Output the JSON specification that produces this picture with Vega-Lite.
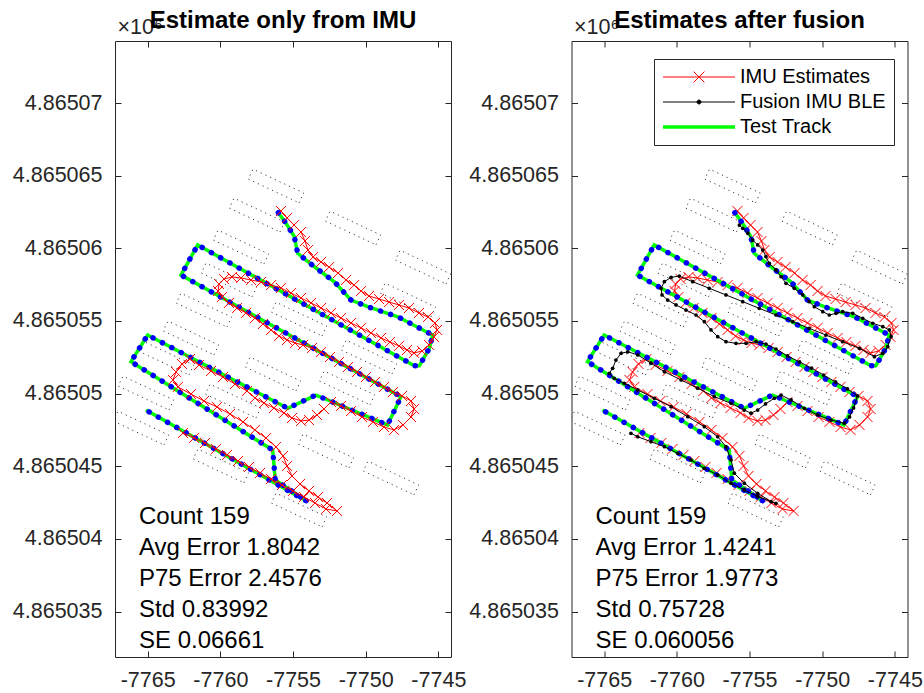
{
  "$schema": "https://vega.github.io/schema/vega-lite/v6.json",
  "background": "white",
  "padding": {"left": 11, "top": 8, "right": 5, "bottom": 5},
  "config": {
    "font": "Liberation Sans",
    "view": {"stroke": "#262626", "strokeWidth": 1},
    "axis": {
      "labelFont": "Liberation Sans", "labelFontSize": 21.5, "labelColor": "#262626",
      "tickColor": "#262626", "tickSize": -6, "domain": false, "grid": false
    },
    "title": {"font": "Liberation Sans", "fontSize": 24, "fontWeight": "bold", "color": "#000000",
      "anchor": "middle", "frame": "group", "offset": -17, "baseline": "alphabetic"}
  },
  "datasets": {
    "track": [
      {"seq": 1, "x": -7756.01, "y": 4865062.45}, {"seq": 2, "x": -7755.48, "y": 4865061.72},
      {"seq": 3, "x": -7754.91, "y": 4865060.80}, {"seq": 4, "x": -7754.68, "y": 4865059.66},
      {"seq": 5, "x": -7753.53, "y": 4865058.73}, {"seq": 6, "x": -7752.16, "y": 4865057.70},
      {"seq": 7, "x": -7751.01, "y": 4865056.44}, {"seq": 8, "x": -7749.86, "y": 4865055.98},
      {"seq": 9, "x": -7747.79, "y": 4865055.29}, {"seq": 10, "x": -7745.39, "y": 4865054.03},
      {"seq": 11, "x": -7745.62, "y": 4865053.12}, {"seq": 12, "x": -7746.31, "y": 4865051.92},
      {"seq": 13, "x": -7746.65, "y": 4865051.92}, {"seq": 14, "x": -7761.56, "y": 4865060.23},
      {"seq": 15, "x": -7762.71, "y": 4865058.16}, {"seq": 16, "x": -7747.57, "y": 4865049.79},
      {"seq": 17, "x": -7748.50, "y": 4865047.84}, {"seq": 18, "x": -7752.61, "y": 4865049.56},
      {"seq": 19, "x": -7753.42, "y": 4865049.90}, {"seq": 20, "x": -7755.36, "y": 4865048.99},
      {"seq": 21, "x": -7765.00, "y": 4865054.03}, {"seq": 22, "x": -7766.15, "y": 4865052.20},
      {"seq": 23, "x": -7756.40, "y": 4865046.12}, {"seq": 24, "x": -7756.22, "y": 4865044.05},
      {"seq": 25, "x": -7753.99, "y": 4865042.56}, {"seq": 26, "x": -7765.12, "y": 4865048.87}
    ],
    "imu": [
      {"seq": 1, "x": -7755.83, "y": 4865062.57}, {"seq": 2, "x": -7755.41, "y": 4865062.09},
      {"seq": 3, "x": -7754.93, "y": 4865061.60}, {"seq": 4, "x": -7754.45, "y": 4865061.12},
      {"seq": 5, "x": -7754.18, "y": 4865060.50}, {"seq": 6, "x": -7753.97, "y": 4865059.88},
      {"seq": 7, "x": -7753.62, "y": 4865059.40}, {"seq": 8, "x": -7753.07, "y": 4865059.06},
      {"seq": 9, "x": -7752.52, "y": 4865058.71}, {"seq": 10, "x": -7751.90, "y": 4865058.30},
      {"seq": 11, "x": -7751.35, "y": 4865057.82}, {"seq": 12, "x": -7750.80, "y": 4865057.47},
      {"seq": 13, "x": -7750.32, "y": 4865057.06}, {"seq": 14, "x": -7749.77, "y": 4865056.72},
      {"seq": 15, "x": -7749.08, "y": 4865056.51}, {"seq": 16, "x": -7748.39, "y": 4865056.30},
      {"seq": 17, "x": -7747.71, "y": 4865056.10}, {"seq": 18, "x": -7747.02, "y": 4865055.89},
      {"seq": 19, "x": -7746.33, "y": 4865055.55}, {"seq": 20, "x": -7745.71, "y": 4865055.27},
      {"seq": 21, "x": -7745.23, "y": 4865054.86}, {"seq": 22, "x": -7745.09, "y": 4865054.38},
      {"seq": 23, "x": -7745.30, "y": 4865053.90}, {"seq": 24, "x": -7745.64, "y": 4865053.35},
      {"seq": 25, "x": -7746.12, "y": 4865052.93}, {"seq": 26, "x": -7746.67, "y": 4865052.80},
      {"seq": 27, "x": -7747.16, "y": 4865053.00}, {"seq": 28, "x": -7747.71, "y": 4865053.28},
      {"seq": 29, "x": -7748.33, "y": 4865053.55}, {"seq": 30, "x": -7748.94, "y": 4865053.83},
      {"seq": 31, "x": -7749.63, "y": 4865054.17}, {"seq": 32, "x": -7750.32, "y": 4865054.52},
      {"seq": 33, "x": -7751.01, "y": 4865054.86}, {"seq": 34, "x": -7751.70, "y": 4865055.20},
      {"seq": 35, "x": -7752.39, "y": 4865055.55}, {"seq": 36, "x": -7753.07, "y": 4865055.89},
      {"seq": 37, "x": -7753.76, "y": 4865056.24}, {"seq": 38, "x": -7754.45, "y": 4865056.58},
      {"seq": 39, "x": -7755.14, "y": 4865056.92}, {"seq": 40, "x": -7755.83, "y": 4865057.27},
      {"seq": 41, "x": -7756.51, "y": 4865057.47}, {"seq": 42, "x": -7757.20, "y": 4865057.68},
      {"seq": 43, "x": -7757.89, "y": 4865057.82}, {"seq": 44, "x": -7758.58, "y": 4865057.96},
      {"seq": 45, "x": -7759.20, "y": 4865058.03}, {"seq": 46, "x": -7759.75, "y": 4865057.89},
      {"seq": 47, "x": -7760.09, "y": 4865057.54}, {"seq": 48, "x": -7760.16, "y": 4865057.06},
      {"seq": 49, "x": -7759.89, "y": 4865056.65}, {"seq": 50, "x": -7759.41, "y": 4865056.24},
      {"seq": 51, "x": -7758.85, "y": 4865055.89}, {"seq": 52, "x": -7758.24, "y": 4865055.55},
      {"seq": 53, "x": -7757.62, "y": 4865055.20}, {"seq": 54, "x": -7757.07, "y": 4865054.79},
      {"seq": 55, "x": -7756.51, "y": 4865054.38}, {"seq": 56, "x": -7755.96, "y": 4865053.96},
      {"seq": 57, "x": -7755.41, "y": 4865053.69}, {"seq": 58, "x": -7754.86, "y": 4865053.48},
      {"seq": 59, "x": -7754.31, "y": 4865053.35}, {"seq": 60, "x": -7753.69, "y": 4865053.14},
      {"seq": 61, "x": -7753.07, "y": 4865052.86}, {"seq": 62, "x": -7752.45, "y": 4865052.52},
      {"seq": 63, "x": -7751.83, "y": 4865052.18}, {"seq": 64, "x": -7751.22, "y": 4865051.83},
      {"seq": 65, "x": -7750.60, "y": 4865051.49}, {"seq": 66, "x": -7749.98, "y": 4865051.14},
      {"seq": 67, "x": -7749.36, "y": 4865050.80}, {"seq": 68, "x": -7748.74, "y": 4865050.46},
      {"seq": 69, "x": -7748.12, "y": 4865050.11}, {"seq": 70, "x": -7747.50, "y": 4865049.84},
      {"seq": 71, "x": -7746.88, "y": 4865049.49}, {"seq": 72, "x": -7746.67, "y": 4865048.94},
      {"seq": 73, "x": -7746.88, "y": 4865048.39}, {"seq": 74, "x": -7747.43, "y": 4865047.84},
      {"seq": 75, "x": -7748.05, "y": 4865047.50}, {"seq": 76, "x": -7748.74, "y": 4865047.70},
      {"seq": 77, "x": -7749.50, "y": 4865048.05}, {"seq": 78, "x": -7750.25, "y": 4865048.39},
      {"seq": 79, "x": -7751.01, "y": 4865048.80}, {"seq": 80, "x": -7751.70, "y": 4865049.15},
      {"seq": 81, "x": -7752.39, "y": 4865049.42}, {"seq": 82, "x": -7752.87, "y": 4865048.94},
      {"seq": 83, "x": -7753.35, "y": 4865048.53}, {"seq": 84, "x": -7753.90, "y": 4865048.18},
      {"seq": 85, "x": -7754.45, "y": 4865048.12}, {"seq": 86, "x": -7755.07, "y": 4865048.32},
      {"seq": 87, "x": -7755.62, "y": 4865048.67}, {"seq": 88, "x": -7756.31, "y": 4865049.01},
      {"seq": 89, "x": -7757.00, "y": 4865049.35}, {"seq": 90, "x": -7757.62, "y": 4865049.70},
      {"seq": 91, "x": -7758.17, "y": 4865050.18}, {"seq": 92, "x": -7758.99, "y": 4865050.66},
      {"seq": 93, "x": -7759.82, "y": 4865051.14}, {"seq": 94, "x": -7760.64, "y": 4865051.56},
      {"seq": 95, "x": -7761.47, "y": 4865051.97}, {"seq": 96, "x": -7762.09, "y": 4865052.38},
      {"seq": 97, "x": -7762.64, "y": 4865052.04}, {"seq": 98, "x": -7763.05, "y": 4865051.49},
      {"seq": 99, "x": -7763.26, "y": 4865050.94}, {"seq": 100, "x": -7762.92, "y": 4865050.46},
      {"seq": 101, "x": -7762.02, "y": 4865049.97}, {"seq": 102, "x": -7761.13, "y": 4865049.49},
      {"seq": 103, "x": -7760.23, "y": 4865049.08}, {"seq": 104, "x": -7759.34, "y": 4865048.60},
      {"seq": 105, "x": -7758.44, "y": 4865048.05}, {"seq": 106, "x": -7757.62, "y": 4865047.50},
      {"seq": 107, "x": -7756.86, "y": 4865046.94}, {"seq": 108, "x": -7756.17, "y": 4865046.33},
      {"seq": 109, "x": -7755.69, "y": 4865045.71}, {"seq": 110, "x": -7755.41, "y": 4865045.02},
      {"seq": 111, "x": -7755.07, "y": 4865044.33}, {"seq": 112, "x": -7754.52, "y": 4865043.78},
      {"seq": 113, "x": -7753.90, "y": 4865043.30}, {"seq": 114, "x": -7753.28, "y": 4865042.88},
      {"seq": 115, "x": -7752.66, "y": 4865042.47}, {"seq": 116, "x": -7751.97, "y": 4865041.92},
      {"seq": 117, "x": -7752.73, "y": 4865042.06}, {"seq": 118, "x": -7753.49, "y": 4865042.47},
      {"seq": 119, "x": -7754.24, "y": 4865042.88}, {"seq": 120, "x": -7755.00, "y": 4865043.30},
      {"seq": 121, "x": -7755.76, "y": 4865043.71}, {"seq": 122, "x": -7756.51, "y": 4865044.12},
      {"seq": 123, "x": -7757.27, "y": 4865044.54}, {"seq": 124, "x": -7758.03, "y": 4865044.95},
      {"seq": 125, "x": -7758.79, "y": 4865045.36}, {"seq": 126, "x": -7759.54, "y": 4865045.78},
      {"seq": 127, "x": -7760.30, "y": 4865046.19}, {"seq": 128, "x": -7761.06, "y": 4865046.60},
      {"seq": 129, "x": -7761.81, "y": 4865046.95}, {"seq": 130, "x": -7762.57, "y": 4865047.29}
    ],
    "fusion": [
      {"seq": 1, "x": -7755.70, "y": 4865061.60}, {"seq": 2, "x": -7755.47, "y": 4865061.38},
      {"seq": 3, "x": -7755.12, "y": 4865061.03}, {"seq": 4, "x": -7754.78, "y": 4865060.57},
      {"seq": 5, "x": -7754.44, "y": 4865060.23}, {"seq": 6, "x": -7754.09, "y": 4865059.88},
      {"seq": 7, "x": -7753.87, "y": 4865059.42}, {"seq": 8, "x": -7753.64, "y": 4865058.97},
      {"seq": 9, "x": -7753.18, "y": 4865058.51}, {"seq": 10, "x": -7752.83, "y": 4865058.05},
      {"seq": 11, "x": -7752.49, "y": 4865057.59}, {"seq": 12, "x": -7751.92, "y": 4865057.25},
      {"seq": 13, "x": -7751.34, "y": 4865056.79}, {"seq": 14, "x": -7750.89, "y": 4865056.33},
      {"seq": 15, "x": -7750.54, "y": 4865055.98}, {"seq": 16, "x": -7749.96, "y": 4865055.64},
      {"seq": 17, "x": -7749.51, "y": 4865055.41}, {"seq": 18, "x": -7749.05, "y": 4865055.53},
      {"seq": 19, "x": -7748.59, "y": 4865055.64}, {"seq": 20, "x": -7747.90, "y": 4865055.53},
      {"seq": 21, "x": -7747.21, "y": 4865055.18}, {"seq": 22, "x": -7746.52, "y": 4865054.84},
      {"seq": 23, "x": -7745.83, "y": 4865054.61}, {"seq": 24, "x": -7745.38, "y": 4865054.38},
      {"seq": 25, "x": -7745.26, "y": 4865053.92}, {"seq": 26, "x": -7745.49, "y": 4865053.23},
      {"seq": 27, "x": -7745.83, "y": 4865052.77}, {"seq": 28, "x": -7746.41, "y": 4865052.54},
      {"seq": 29, "x": -7747.44, "y": 4865053.12}, {"seq": 30, "x": -7748.59, "y": 4865053.57},
      {"seq": 31, "x": -7749.74, "y": 4865054.03}, {"seq": 32, "x": -7750.89, "y": 4865054.49},
      {"seq": 33, "x": -7752.03, "y": 4865054.95}, {"seq": 34, "x": -7753.18, "y": 4865055.41},
      {"seq": 35, "x": -7754.33, "y": 4865055.87}, {"seq": 36, "x": -7755.47, "y": 4865056.33},
      {"seq": 37, "x": -7756.62, "y": 4865056.79}, {"seq": 38, "x": -7757.77, "y": 4865057.25},
      {"seq": 39, "x": -7758.91, "y": 4865057.70}, {"seq": 40, "x": -7759.83, "y": 4865058.09},
      {"seq": 41, "x": -7760.40, "y": 4865058.00}, {"seq": 42, "x": -7760.86, "y": 4865057.70},
      {"seq": 43, "x": -7761.09, "y": 4865057.25}, {"seq": 44, "x": -7761.02, "y": 4865056.79},
      {"seq": 45, "x": -7760.63, "y": 4865056.44}, {"seq": 46, "x": -7760.06, "y": 4865056.10},
      {"seq": 47, "x": -7759.37, "y": 4865055.75}, {"seq": 48, "x": -7758.68, "y": 4865055.41},
      {"seq": 49, "x": -7758.11, "y": 4865054.95}, {"seq": 50, "x": -7757.65, "y": 4865054.38},
      {"seq": 51, "x": -7757.19, "y": 4865053.92}, {"seq": 52, "x": -7756.62, "y": 4865053.57},
      {"seq": 53, "x": -7755.93, "y": 4865053.46}, {"seq": 54, "x": -7755.24, "y": 4865053.46},
      {"seq": 55, "x": -7754.55, "y": 4865053.57}, {"seq": 56, "x": -7753.87, "y": 4865053.41},
      {"seq": 57, "x": -7753.18, "y": 4865053.07}, {"seq": 58, "x": -7752.39, "y": 4865052.59},
      {"seq": 59, "x": -7751.56, "y": 4865052.18}, {"seq": 60, "x": -7750.73, "y": 4865051.76},
      {"seq": 61, "x": -7749.91, "y": 4865051.28}, {"seq": 62, "x": -7749.08, "y": 4865050.80},
      {"seq": 63, "x": -7748.26, "y": 4865050.32}, {"seq": 64, "x": -7747.57, "y": 4865049.84},
      {"seq": 65, "x": -7747.84, "y": 4865049.01}, {"seq": 66, "x": -7748.12, "y": 4865048.39},
      {"seq": 67, "x": -7748.48, "y": 4865047.96}, {"seq": 68, "x": -7749.39, "y": 4865048.18},
      {"seq": 69, "x": -7750.31, "y": 4865048.53}, {"seq": 70, "x": -7751.23, "y": 4865048.99},
      {"seq": 71, "x": -7752.14, "y": 4865049.56}, {"seq": 72, "x": -7752.83, "y": 4865049.90},
      {"seq": 73, "x": -7753.29, "y": 4865049.68}, {"seq": 74, "x": -7753.90, "y": 4865049.29},
      {"seq": 75, "x": -7754.44, "y": 4865048.87}, {"seq": 76, "x": -7754.90, "y": 4865048.65},
      {"seq": 77, "x": -7755.36, "y": 4865048.87}, {"seq": 78, "x": -7756.27, "y": 4865049.33},
      {"seq": 79, "x": -7757.42, "y": 4865049.79}, {"seq": 80, "x": -7758.57, "y": 4865050.37},
      {"seq": 81, "x": -7759.71, "y": 4865050.94}, {"seq": 82, "x": -7760.86, "y": 4865051.51},
      {"seq": 83, "x": -7761.78, "y": 4865052.09}, {"seq": 84, "x": -7762.69, "y": 4865052.66},
      {"seq": 85, "x": -7763.38, "y": 4865052.88}, {"seq": 86, "x": -7763.84, "y": 4865052.77},
      {"seq": 87, "x": -7764.19, "y": 4865052.31}, {"seq": 88, "x": -7764.42, "y": 4865051.74},
      {"seq": 89, "x": -7764.65, "y": 4865051.40}, {"seq": 90, "x": -7764.31, "y": 4865051.05},
      {"seq": 91, "x": -7763.62, "y": 4865050.71}, {"seq": 92, "x": -7762.69, "y": 4865050.25},
      {"seq": 93, "x": -7761.55, "y": 4865049.68}, {"seq": 94, "x": -7760.40, "y": 4865049.10},
      {"seq": 95, "x": -7759.25, "y": 4865048.41}, {"seq": 96, "x": -7758.11, "y": 4865047.72},
      {"seq": 97, "x": -7757.19, "y": 4865047.03}, {"seq": 98, "x": -7756.62, "y": 4865046.35},
      {"seq": 99, "x": -7756.27, "y": 4865045.43}, {"seq": 100, "x": -7756.05, "y": 4865044.52},
      {"seq": 101, "x": -7755.36, "y": 4865043.83}, {"seq": 102, "x": -7754.44, "y": 4865043.14},
      {"seq": 103, "x": -7753.52, "y": 4865042.56}, {"seq": 104, "x": -7753.18, "y": 4865042.45},
      {"seq": 105, "x": -7754.44, "y": 4865042.91}, {"seq": 106, "x": -7755.36, "y": 4865043.37},
      {"seq": 107, "x": -7756.27, "y": 4865043.83}, {"seq": 108, "x": -7757.19, "y": 4865044.40},
      {"seq": 109, "x": -7758.11, "y": 4865044.86}, {"seq": 110, "x": -7759.03, "y": 4865045.43},
      {"seq": 111, "x": -7759.94, "y": 4865045.89}, {"seq": 112, "x": -7760.86, "y": 4865046.35},
      {"seq": 113, "x": -7761.78, "y": 4865046.69}, {"seq": 114, "x": -7762.69, "y": 4865047.03},
      {"seq": 115, "x": -7763.16, "y": 4865047.27}
    ],
    "shelves": [
      {"shelf": 1, "seq": 1, "x": -7754.59, "y": 4865063.13}, {"shelf": 1, "seq": 2, "x": -7754.27, "y": 4865063.81}, {"shelf": 1, "seq": 3, "x": -7757.75, "y": 4865065.45}, {"shelf": 1, "seq": 4, "x": -7758.08, "y": 4865064.77}, {"shelf": 1, "seq": 5, "x": -7754.59, "y": 4865063.13},
      {"shelf": 2, "seq": 1, "x": -7755.90, "y": 4865061.13}, {"shelf": 2, "seq": 2, "x": -7755.58, "y": 4865061.81}, {"shelf": 2, "seq": 3, "x": -7759.06, "y": 4865063.45}, {"shelf": 2, "seq": 4, "x": -7759.39, "y": 4865062.77}, {"shelf": 2, "seq": 5, "x": -7755.90, "y": 4865061.13},
      {"shelf": 3, "seq": 1, "x": -7757.00, "y": 4865058.93}, {"shelf": 3, "seq": 2, "x": -7756.68, "y": 4865059.61}, {"shelf": 3, "seq": 3, "x": -7760.16, "y": 4865061.25}, {"shelf": 3, "seq": 4, "x": -7760.49, "y": 4865060.57}, {"shelf": 3, "seq": 5, "x": -7757.00, "y": 4865058.93},
      {"shelf": 4, "seq": 1, "x": -7749.29, "y": 4865060.24}, {"shelf": 4, "seq": 2, "x": -7748.97, "y": 4865060.92}, {"shelf": 4, "seq": 3, "x": -7752.45, "y": 4865062.56}, {"shelf": 4, "seq": 4, "x": -7752.78, "y": 4865061.88}, {"shelf": 4, "seq": 5, "x": -7749.29, "y": 4865060.24},
      {"shelf": 5, "seq": 1, "x": -7744.47, "y": 4865057.55}, {"shelf": 5, "seq": 2, "x": -7744.15, "y": 4865058.23}, {"shelf": 5, "seq": 3, "x": -7747.63, "y": 4865059.87}, {"shelf": 5, "seq": 4, "x": -7747.96, "y": 4865059.19}, {"shelf": 5, "seq": 5, "x": -7744.47, "y": 4865057.55},
      {"shelf": 6, "seq": 1, "x": -7745.51, "y": 4865055.28}, {"shelf": 6, "seq": 2, "x": -7745.19, "y": 4865055.96}, {"shelf": 6, "seq": 3, "x": -7748.67, "y": 4865057.60}, {"shelf": 6, "seq": 4, "x": -7749.00, "y": 4865056.92}, {"shelf": 6, "seq": 5, "x": -7745.51, "y": 4865055.28},
      {"shelf": 7, "seq": 1, "x": -7757.82, "y": 4865056.66}, {"shelf": 7, "seq": 2, "x": -7757.50, "y": 4865057.34}, {"shelf": 7, "seq": 3, "x": -7760.99, "y": 4865058.98}, {"shelf": 7, "seq": 4, "x": -7761.31, "y": 4865058.30}, {"shelf": 7, "seq": 5, "x": -7757.82, "y": 4865056.66},
      {"shelf": 8, "seq": 1, "x": -7753.00, "y": 4865053.97}, {"shelf": 8, "seq": 2, "x": -7752.68, "y": 4865054.65}, {"shelf": 8, "seq": 3, "x": -7756.17, "y": 4865056.29}, {"shelf": 8, "seq": 4, "x": -7756.49, "y": 4865055.61}, {"shelf": 8, "seq": 5, "x": -7753.00, "y": 4865053.97},
      {"shelf": 19, "seq": 1, "x": -7748.19, "y": 4865051.36}, {"shelf": 19, "seq": 2, "x": -7747.87, "y": 4865052.04}, {"shelf": 19, "seq": 3, "x": -7751.35, "y": 4865053.68}, {"shelf": 19, "seq": 4, "x": -7751.68, "y": 4865053.00}, {"shelf": 19, "seq": 5, "x": -7748.19, "y": 4865051.36},
      {"shelf": 9, "seq": 1, "x": -7759.55, "y": 4865054.59}, {"shelf": 9, "seq": 2, "x": -7759.23, "y": 4865055.27}, {"shelf": 9, "seq": 3, "x": -7762.71, "y": 4865056.91}, {"shelf": 9, "seq": 4, "x": -7763.04, "y": 4865056.23}, {"shelf": 9, "seq": 5, "x": -7759.55, "y": 4865054.59},
      {"shelf": 10, "seq": 1, "x": -7760.44, "y": 4865052.67}, {"shelf": 10, "seq": 2, "x": -7760.12, "y": 4865053.35}, {"shelf": 10, "seq": 3, "x": -7763.60, "y": 4865054.99}, {"shelf": 10, "seq": 4, "x": -7763.93, "y": 4865054.31}, {"shelf": 10, "seq": 5, "x": -7760.44, "y": 4865052.67},
      {"shelf": 11, "seq": 1, "x": -7754.80, "y": 4865050.19}, {"shelf": 11, "seq": 2, "x": -7754.48, "y": 4865050.87}, {"shelf": 11, "seq": 3, "x": -7757.96, "y": 4865052.51}, {"shelf": 11, "seq": 4, "x": -7758.29, "y": 4865051.83}, {"shelf": 11, "seq": 5, "x": -7754.80, "y": 4865050.19},
      {"shelf": 12, "seq": 1, "x": -7749.70, "y": 4865049.23}, {"shelf": 12, "seq": 2, "x": -7749.38, "y": 4865049.91}, {"shelf": 12, "seq": 3, "x": -7752.86, "y": 4865051.55}, {"shelf": 12, "seq": 4, "x": -7753.19, "y": 4865050.87}, {"shelf": 12, "seq": 5, "x": -7749.70, "y": 4865049.23},
      {"shelf": 13, "seq": 1, "x": -7762.16, "y": 4865051.29}, {"shelf": 13, "seq": 2, "x": -7761.84, "y": 4865051.97}, {"shelf": 13, "seq": 3, "x": -7765.32, "y": 4865053.61}, {"shelf": 13, "seq": 4, "x": -7765.65, "y": 4865052.93}, {"shelf": 13, "seq": 5, "x": -7762.16, "y": 4865051.29},
      {"shelf": 20, "seq": 1, "x": -7757.55, "y": 4865048.33}, {"shelf": 20, "seq": 2, "x": -7757.23, "y": 4865049.01}, {"shelf": 20, "seq": 3, "x": -7760.71, "y": 4865050.65}, {"shelf": 20, "seq": 4, "x": -7761.04, "y": 4865049.97}, {"shelf": 20, "seq": 5, "x": -7757.55, "y": 4865048.33},
      {"shelf": 14, "seq": 1, "x": -7763.54, "y": 4865048.88}, {"shelf": 14, "seq": 2, "x": -7763.22, "y": 4865049.56}, {"shelf": 14, "seq": 3, "x": -7766.70, "y": 4865051.20}, {"shelf": 14, "seq": 4, "x": -7767.03, "y": 4865050.52}, {"shelf": 14, "seq": 5, "x": -7763.54, "y": 4865048.88},
      {"shelf": 15, "seq": 1, "x": -7763.88, "y": 4865046.47}, {"shelf": 15, "seq": 2, "x": -7763.56, "y": 4865047.15}, {"shelf": 15, "seq": 3, "x": -7767.04, "y": 4865048.79}, {"shelf": 15, "seq": 4, "x": -7767.37, "y": 4865048.11}, {"shelf": 15, "seq": 5, "x": -7763.88, "y": 4865046.47},
      {"shelf": 16, "seq": 1, "x": -7751.15, "y": 4865044.89}, {"shelf": 16, "seq": 2, "x": -7750.83, "y": 4865045.57}, {"shelf": 16, "seq": 3, "x": -7754.31, "y": 4865047.21}, {"shelf": 16, "seq": 4, "x": -7754.64, "y": 4865046.53}, {"shelf": 16, "seq": 5, "x": -7751.15, "y": 4865044.89},
      {"shelf": 21, "seq": 1, "x": -7746.68, "y": 4865043.03}, {"shelf": 21, "seq": 2, "x": -7746.36, "y": 4865043.71}, {"shelf": 21, "seq": 3, "x": -7749.84, "y": 4865045.35}, {"shelf": 21, "seq": 4, "x": -7750.17, "y": 4865044.67}, {"shelf": 21, "seq": 5, "x": -7746.68, "y": 4865043.03},
      {"shelf": 17, "seq": 1, "x": -7753.00, "y": 4865040.83}, {"shelf": 17, "seq": 2, "x": -7752.68, "y": 4865041.51}, {"shelf": 17, "seq": 3, "x": -7756.17, "y": 4865043.15}, {"shelf": 17, "seq": 4, "x": -7756.49, "y": 4865042.47}, {"shelf": 17, "seq": 5, "x": -7753.00, "y": 4865040.83},
      {"shelf": 18, "seq": 1, "x": -7758.38, "y": 4865043.86}, {"shelf": 18, "seq": 2, "x": -7758.06, "y": 4865044.54}, {"shelf": 18, "seq": 3, "x": -7761.54, "y": 4865046.18}, {"shelf": 18, "seq": 4, "x": -7761.87, "y": 4865045.50}, {"shelf": 18, "seq": 5, "x": -7758.38, "y": 4865043.86}
    ],
    "stats_imu": [
      {"x": -7765.6, "y": 4865041.54, "label": "Count 159\nAvg Error 1.8042\nP75 Error 2.4576\nStd 0.83992\nSE 0.06661"}
    ],
    "stats_fusion": [
      {"x": -7765.6, "y": 4865041.54, "label": "Count 159\nAvg Error 1.4241\nP75 Error 1.9773\nStd 0.75728\nSE 0.060056"}
    ]
  },
  "resolve": {"scale": {"color": "independent"}, "legend": {"color": "independent"}},
  "bounds": "flush",
  "spacing": 120.5,
  "hconcat": [
    {
      "width": 336, "height": 616,
      "title": {"text": "Estimate only from IMU"},
      "resolve": {"axis": {"x": "independent", "y": "independent"}},
      "layer": [
        {
          "data": {"name": "shelves"},
          "mark": {"type": "line", "color": "#3a3a3a", "strokeWidth": 1, "strokeDash": [1.2, 4], "clip": true},
          "encoding": {
            "x": {"field": "x", "type": "quantitative", "scale": {"domain": [-7767.25, -7744.13], "nice": false, "zero": false},
              "axis": {"orient": "bottom", "values": [-7765, -7760, -7755, -7750, -7745], "labelExpr": "'' + datum.value", "labelPadding": 18, "title": null}},
            "y": {"field": "y", "type": "quantitative", "scale": {"domain": [4865031.87, 4865074.27], "nice": false, "zero": false},
              "axis": {"orient": "left", "values": [4865035, 4865040, 4865045, 4865050, 4865055, 4865060, 4865065, 4865070],
                "labelExpr": "format(datum.value / 1000000, '.6~f')", "labelPadding": 19,
                "title": "×10⁶", "titleAngle": 0, "titleAlign": "left", "titleBaseline": "alphabetic", "titleX": 2, "titleY": -8,
                "titleFont": "Liberation Sans", "titleFontSize": 21.5, "titleFontWeight": "normal", "titleColor": "#262626"}},
            "detail": {"field": "shelf", "type": "nominal"},
            "order": {"field": "seq", "type": "quantitative"}
          }
        },
        {
          "data": {"name": "track"},
          "mark": {"type": "line", "color": "#00ff00", "strokeWidth": 3.5, "clip": true},
          "encoding": {
            "x": {"field": "x", "type": "quantitative", "axis": {"orient": "top", "values": [-7765, -7760, -7755, -7750, -7745], "labels": false, "title": null}},
            "y": {"field": "y", "type": "quantitative", "axis": {"orient": "right", "values": [4865035, 4865040, 4865045, 4865050, 4865055, 4865060, 4865065, 4865070], "labels": false, "title": null}},
            "order": {"field": "seq", "type": "quantitative"}
          }
        },
        {
          "data": {"name": "track"},
          "mark": {"type": "line", "color": "#0000ff", "strokeWidth": 5.5, "strokeCap": "round", "strokeDash": [0.1, 10.5], "clip": true},
          "encoding": {
            "x": {"field": "x", "type": "quantitative", "axis": null},
            "y": {"field": "y", "type": "quantitative", "axis": null},
            "order": {"field": "seq", "type": "quantitative"}
          }
        },
        {
          "data": {"name": "imu"},
          "mark": {"type": "line", "color": "#ff0000", "strokeWidth": 1, "clip": true,
            "point": {"shape": "M-1,-1L1,1M-1,1L1,-1", "filled": false, "size": 100, "strokeWidth": 1, "color": "#ff0000"}},
          "encoding": {
            "x": {"field": "x", "type": "quantitative", "axis": null},
            "y": {"field": "y", "type": "quantitative", "axis": null},
            "order": {"field": "seq", "type": "quantitative"}
          }
        },
        {
          "data": {"name": "stats_imu"},
          "mark": {"type": "text", "align": "left", "baseline": "middle", "fontSize": 24, "lineHeight": 31, "lineBreak": "\n", "font": "Liberation Sans", "color": "#000000"},
          "encoding": {
            "x": {"field": "x", "type": "quantitative", "axis": null},
            "y": {"field": "y", "type": "quantitative", "axis": null},
            "text": {"field": "label", "type": "nominal"}
          }
        }
      ]
    },
    {
      "width": 336, "height": 616,
      "title": {"text": "Estimates after fusion"},
      "resolve": {"axis": {"x": "independent", "y": "independent"}},
      "layer": [
        {
          "data": {"name": "shelves"},
          "mark": {"type": "line", "color": "#3a3a3a", "strokeWidth": 1, "strokeDash": [1.2, 4], "clip": true},
          "encoding": {
            "x": {"field": "x", "type": "quantitative", "scale": {"domain": [-7767.25, -7744.13], "nice": false, "zero": false},
              "axis": {"orient": "bottom", "values": [-7765, -7760, -7755, -7750, -7745], "labelExpr": "'' + datum.value", "labelPadding": 18, "title": null}},
            "y": {"field": "y", "type": "quantitative", "scale": {"domain": [4865031.87, 4865074.27], "nice": false, "zero": false},
              "axis": {"orient": "left", "values": [4865035, 4865040, 4865045, 4865050, 4865055, 4865060, 4865065, 4865070],
                "labelExpr": "format(datum.value / 1000000, '.6~f')", "labelPadding": 19,
                "title": "×10⁶", "titleAngle": 0, "titleAlign": "left", "titleBaseline": "alphabetic", "titleX": 2, "titleY": -8,
                "titleFont": "Liberation Sans", "titleFontSize": 21.5, "titleFontWeight": "normal", "titleColor": "#262626"}},
            "detail": {"field": "shelf", "type": "nominal"},
            "order": {"field": "seq", "type": "quantitative"}
          }
        },
        {
          "data": {"name": "imu"},
          "mark": {"type": "line", "strokeWidth": 1, "clip": true,
            "point": {"shape": "M-1,-1L1,1M-1,1L1,-1", "filled": false, "size": 100, "strokeWidth": 1}},
          "encoding": {
            "x": {"field": "x", "type": "quantitative", "axis": null},
            "y": {"field": "y", "type": "quantitative", "axis": null},
            "order": {"field": "seq", "type": "quantitative"},
            "color": {"datum": "IMU Estimates", "type": "nominal",
              "scale": {"domain": ["IMU Estimates", "Fusion IMU BLE", "Test Track"], "range": ["#ff0000", "#000000", "#00ff00"]},
              "legend": {
                "orient": "none", "legendX": 82.5, "legendY": 18, "title": null,
                "labelFont": "Liberation Sans", "labelFontSize": 20, "labelColor": "#000000",
                "symbolSize": 324, "symbolOffset": 27, "labelOffset": 31, "rowPadding": 5,
                "padding": 8, "strokeColor": "#262626", "fillColor": "#ffffff",
                "encode": {"symbols": {"update": {
                  "shape": {"signal": "datum.value === 'IMU Estimates' ? 'M-4,0H4M-0.6,-0.6L0.6,0.6M-0.6,0.6L0.6,-0.6' : (datum.value === 'Fusion IMU BLE' ? 'M-4,0H4M-0.22,0A0.22,0.22 0 1,0 0.22,0A0.22,0.22 0 1,0 -0.22,0' : 'M-4,0H4')"},
                  "strokeWidth": {"signal": "datum.value === 'Test Track' ? 3.5 : 1"},
                  "fill": {"signal": "datum.value === 'Fusion IMU BLE' ? '#000000' : 'transparent'"},
                  "opacity": {"value": 1}
                }}}
              }}
          }
        },
        {
          "data": {"name": "track"},
          "mark": {"type": "line", "strokeWidth": 3.5, "clip": true},
          "encoding": {
            "x": {"field": "x", "type": "quantitative", "axis": {"orient": "top", "values": [-7765, -7760, -7755, -7750, -7745], "labels": false, "title": null}},
            "y": {"field": "y", "type": "quantitative", "axis": {"orient": "right", "values": [4865035, 4865040, 4865045, 4865050, 4865055, 4865060, 4865065, 4865070], "labels": false, "title": null}},
            "order": {"field": "seq", "type": "quantitative"},
            "color": {"datum": "Test Track", "type": "nominal"}
          }
        },
        {
          "data": {"name": "track"},
          "mark": {"type": "line", "color": "#0000ff", "strokeWidth": 5.5, "strokeCap": "round", "strokeDash": [0.1, 10.5], "clip": true},
          "encoding": {
            "x": {"field": "x", "type": "quantitative", "axis": null},
            "y": {"field": "y", "type": "quantitative", "axis": null},
            "order": {"field": "seq", "type": "quantitative"}
          }
        },
        {
          "data": {"name": "fusion"},
          "mark": {"type": "line", "strokeWidth": 1, "clip": true,
            "point": {"filled": true, "size": 14, "shape": "circle"}},
          "encoding": {
            "x": {"field": "x", "type": "quantitative", "axis": null},
            "y": {"field": "y", "type": "quantitative", "axis": null},
            "order": {"field": "seq", "type": "quantitative"},
            "color": {"datum": "Fusion IMU BLE", "type": "nominal"}
          }
        },
        {
          "data": {"name": "stats_fusion"},
          "mark": {"type": "text", "align": "left", "baseline": "middle", "fontSize": 24, "lineHeight": 31, "lineBreak": "\n", "font": "Liberation Sans", "color": "#000000"},
          "encoding": {
            "x": {"field": "x", "type": "quantitative", "axis": null},
            "y": {"field": "y", "type": "quantitative", "axis": null},
            "text": {"field": "label", "type": "nominal"}
          }
        }
      ]
    }
  ]
}
